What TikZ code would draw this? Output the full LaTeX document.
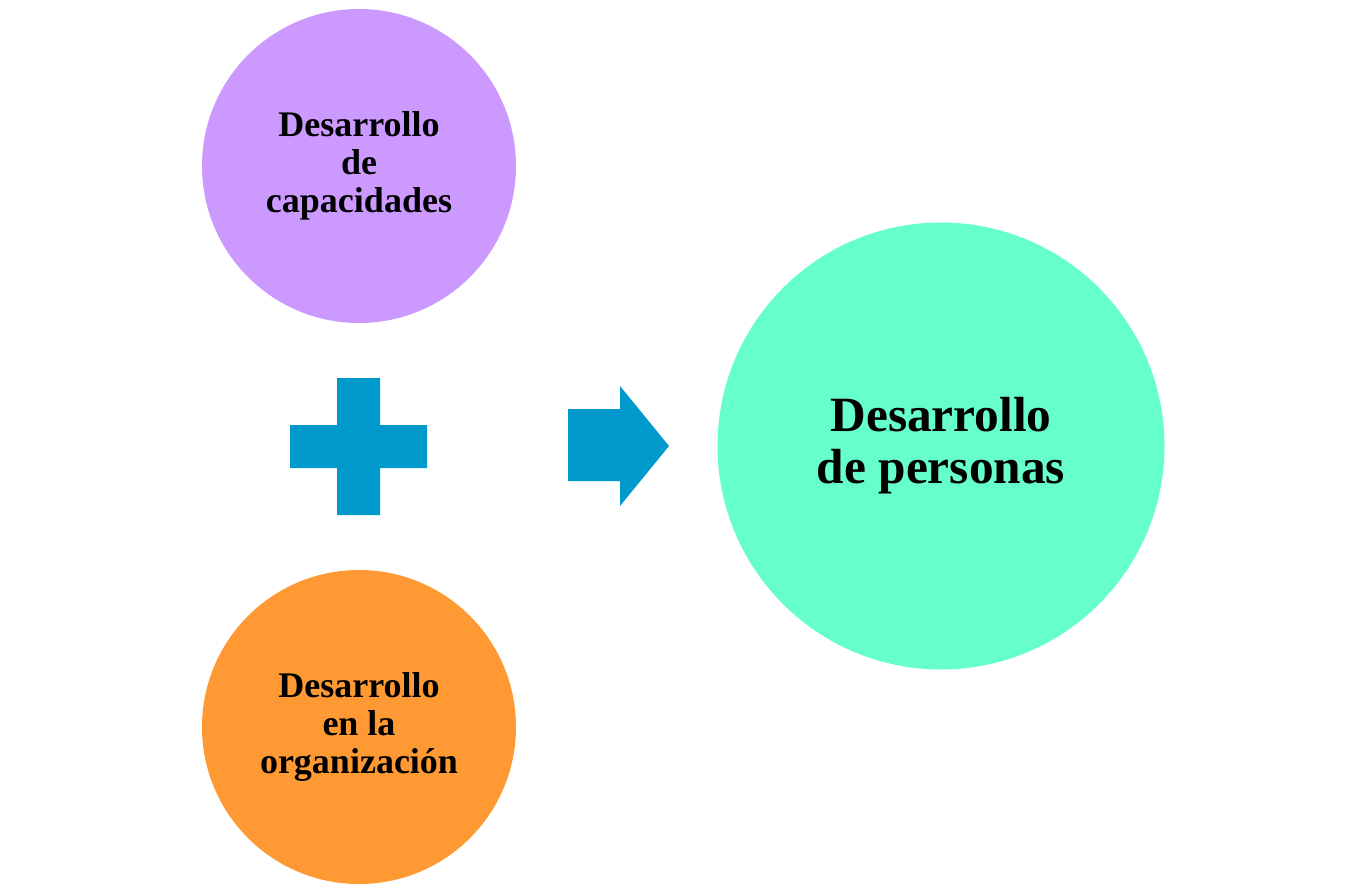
\documentclass[tikz,border=0pt]{standalone}
\usepackage{fontspec}
\setmainfont{Liberation Serif}
\definecolor{lila}{HTML}{CC99FF}
\definecolor{naranja}{HTML}{FF9933}
\definecolor{menta}{HTML}{66FFCC}
\definecolor{azul}{HTML}{0099CC}
\tikzset{every picture/.style={line width=0.75pt}}
\tikzset{
  circulo/.style={circle, draw=none, inner sep=0pt, align=center, font=\bfseries\fontsize{27}{28.5}\selectfont},
  grande/.style={circulo, font=\bfseries\fontsize{37}{39}\selectfont}
}
\begin{document}
\begin{tikzpicture}[x=0.75pt,y=0.75pt,yscale=-1,xscale=1]
\useasboundingbox (0,0) rectangle (1366,893);

% Circles
\node [circulo, fill=lila, minimum size=314*0.75pt] (capacidades) at (359,166) {Desarrollo\\de\\capacidades};
\node [circulo, fill=naranja, minimum size=314*0.75pt] (organizacion) at (359,727) {Desarrollo\\en la\\organización};
\node [grande, fill=menta, minimum size=447*0.75pt] (personas) at (941,446) {Desarrollo\\de personas};

% Plus sign
\fill [azul] (337,378) -- (380,378) -- (380,425) -- (427,425) -- (427,468) -- (380,468) -- (380,515) -- (337,515) -- (337,468) -- (290,468) -- (290,425) -- (337,425) -- cycle ;

% Block arrow
\fill [azul] (568,409) -- (620,409) -- (620,386) -- (669,446) -- (620,506) -- (620,481) -- (568,481) -- cycle ;

\end{tikzpicture}
\end{document}
